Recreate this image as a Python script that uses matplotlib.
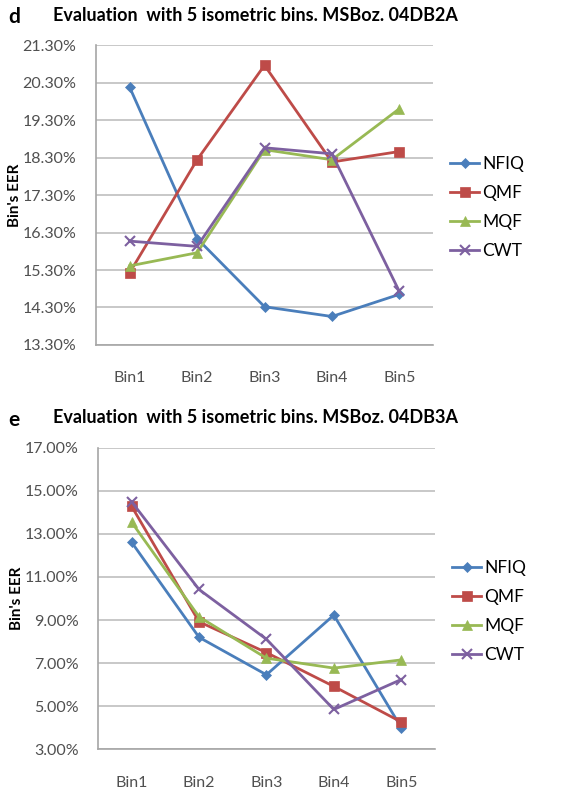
import numpy as np
import matplotlib.pyplot as plt
from matplotlib.ticker import FuncFormatter

plt.rcParams['font.family'] = ['Lato', 'DejaVu Sans']

bins = ['Bin1', 'Bin2', 'Bin3', 'Bin4', 'Bin5']
methods = ['NFIQ', 'QMF', 'MQF', 'CWT']

# panel d: MSBoz. 04DB2A (EER in %)
db2a_nfiq = [20.17, 16.14, 14.32, 14.06, 14.65]
db2a_qmf = [15.23, 18.24, 20.76, 18.18, 18.46]
db2a_mqf = [15.41, 15.76, 18.51, 18.24, 19.60]
db2a_cwt = [16.07, 15.93, 18.56, 18.40, 14.73]

# panel e: MSBoz. 04DB3A (EER in %)
db3a_nfiq = [12.61, 8.20, 6.46, 9.23, 4.01]
db3a_qmf = [14.28, 8.92, 7.49, 5.92, 4.27]
db3a_mqf = [13.54, 9.15, 7.23, 6.77, 7.15]
db3a_cwt = [14.49, 10.42, 8.11, 4.85, 6.24]

colors = ['#4A7EBB', '#BE4B48', '#98B954', '#7D60A0']
markers = ['D', 's', '^', 'x']
msizes = [5, 6.5, 7, 7]

fig = plt.figure(figsize=(5.83, 7.90), dpi=100)


def draw_panel(rect, letter, title, series, yticks, fmt):
    ax = fig.add_axes(rect)
    x = np.arange(len(bins))
    for name, vals, c, m, ms in zip(methods, series, colors, markers, msizes):
        ax.plot(x, vals, color=c, marker=m, markersize=ms, linewidth=2,
                markeredgewidth=1.5 if m == 'x' else 0.5, label=name)
    ax.set_xlim(-0.5, len(bins) - 0.5)
    ax.set_ylim(yticks[0], yticks[-1])
    ax.set_yticks(yticks)
    ax.yaxis.set_major_formatter(FuncFormatter(lambda v, p: fmt % v + '%'))
    ax.set_xticks(x)
    ax.set_xticklabels(bins)
    ax.grid(axis='y', color='#BFBFBF', linewidth=1.2)
    ax.set_axisbelow(True)
    for s in ['top', 'right']:
        ax.spines[s].set_visible(False)
    for s in ['left', 'bottom']:
        ax.spines[s].set_color('#A6A6A6')
        ax.spines[s].set_linewidth(1.2)
    ax.tick_params(axis='both', length=0, labelsize=11.5, labelcolor='#505050')
    ax.tick_params(axis='y', pad=14)
    ax.tick_params(axis='x', pad=19)
    ax.set_ylabel("Bin's EER", fontsize=11, fontweight='bold')
    ax.yaxis.set_label_coords(-0.22, 0.5)
    ax.legend(loc='center left', bbox_to_anchor=(1.05, 0.458), frameon=False,
              borderpad=0, borderaxespad=0, handlelength=1.7, handletextpad=0.15,
              labelspacing=0.75, fontsize=12.5)
    top = rect[1] + rect[3]
    fig.text(0.014, top + 0.035, letter, fontsize=15, fontweight='bold', va='center')
    fig.text(0.091, top + 0.038, title, fontsize=13, fontweight='bold', va='center')
    return ax


draw_panel([0.1647, 0.5633, 0.578, 0.3797], 'd',
           'Evaluation  with 5 isometric bins. MSBoz. 04DB2A',
           [db2a_nfiq, db2a_qmf, db2a_mqf, db2a_cwt],
           np.arange(13.3, 21.31, 1.0), '%.2f')
draw_panel([0.168, 0.0515, 0.578, 0.3818], 'e',
           'Evaluation  with 5 isometric bins. MSBoz. 04DB3A',
           [db3a_nfiq, db3a_qmf, db3a_mqf, db3a_cwt],
           np.arange(3.0, 17.01, 2.0), '%.2f')

fig.savefig('out.png', dpi=100)
